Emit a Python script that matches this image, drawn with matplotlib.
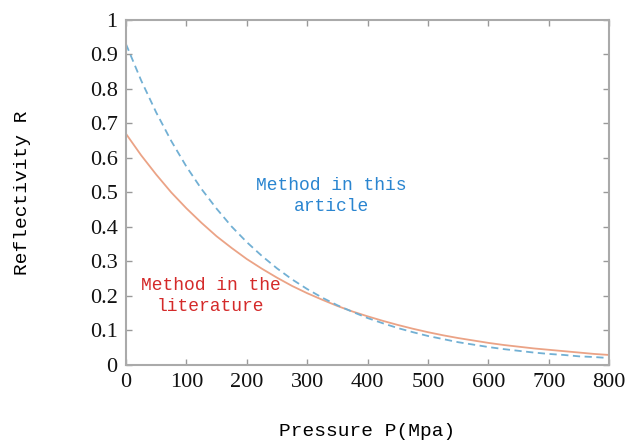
import matplotlib
matplotlib.use("Agg")
import matplotlib.pyplot as plt

# pressure (MPa) and reflectivity
pressure = [0, 25, 50, 75, 100, 125, 150, 175, 200, 225, 250, 275, 300, 325, 350, 375, 400,
            425, 450, 475, 500, 525, 550, 575, 600, 625, 650, 675, 700, 725, 750, 775, 800]
r_article = [0.93, 0.825, 0.732, 0.649, 0.575, 0.51, 0.453, 0.401, 0.356, 0.316, 0.28,
             0.248, 0.22, 0.195, 0.173, 0.154, 0.136, 0.121, 0.107, 0.095, 0.084, 0.075,
             0.066, 0.059, 0.052, 0.046, 0.041, 0.036, 0.032, 0.029, 0.025, 0.023, 0.02]
r_literature = [0.67, 0.608, 0.552, 0.5, 0.454, 0.412, 0.373, 0.339, 0.307, 0.279, 0.253,
                0.229, 0.208, 0.189, 0.171, 0.155, 0.141, 0.128, 0.116, 0.105, 0.095, 0.086,
                0.078, 0.071, 0.064, 0.058, 0.053, 0.048, 0.044, 0.04, 0.036, 0.032, 0.029]
xticks = [0, 100, 200, 300, 400, 500, 600, 700, 800]
yticks = [0, 0.1, 0.2, 0.3, 0.4, 0.5, 0.6, 0.7, 0.8, 0.9, 1]

fig = plt.figure(figsize=(6.3, 4.44), dpi=100)
ax = fig.add_axes([0.2, 0.178, 0.767, 0.777])

ax.plot(pressure, r_literature, color="#eba386", lw=1.3)
ax.plot(pressure, r_article, color="#72b0d4", lw=1.3, ls=(0, (4, 2.5)))

ax.set_xlim(0, 800)
ax.set_ylim(0, 1)
ax.set_xticks(xticks)
ax.set_yticks(yticks)
ax.set_xticklabels([str(v) for v in xticks], family="Liberation Serif", fontsize=16)
ax.set_yticklabels(["0" if v == 0 else "1" if v == 1 else "%g" % v for v in yticks],
                   family="Liberation Serif", fontsize=16)
ax.tick_params(direction="in", top=True, right=True, length=4, width=1, color="#999999",
               labelcolor="#111111", pad=6)
for s in ax.spines.values():
    s.set_color("#aaaaaa")
    s.set_linewidth(1.5)

ax.set_xlabel("Pressure P(Mpa)", family="Liberation Mono", fontsize=14, labelpad=22)
ax.set_ylabel("Reflectivity R", family="Liberation Mono", fontsize=14, labelpad=42)

ax.text(340, 0.49, "Method in this\narticle", color="#2a85d0", family="Liberation Mono",
        fontsize=13, ha="center", va="center", linespacing=1.3)
ax.text(140, 0.2, "Method in the\nliterature", color="#d42a2a", family="Liberation Mono",
        fontsize=13, ha="center", va="center", linespacing=1.3)

fig.savefig("out.png", dpi=100)
